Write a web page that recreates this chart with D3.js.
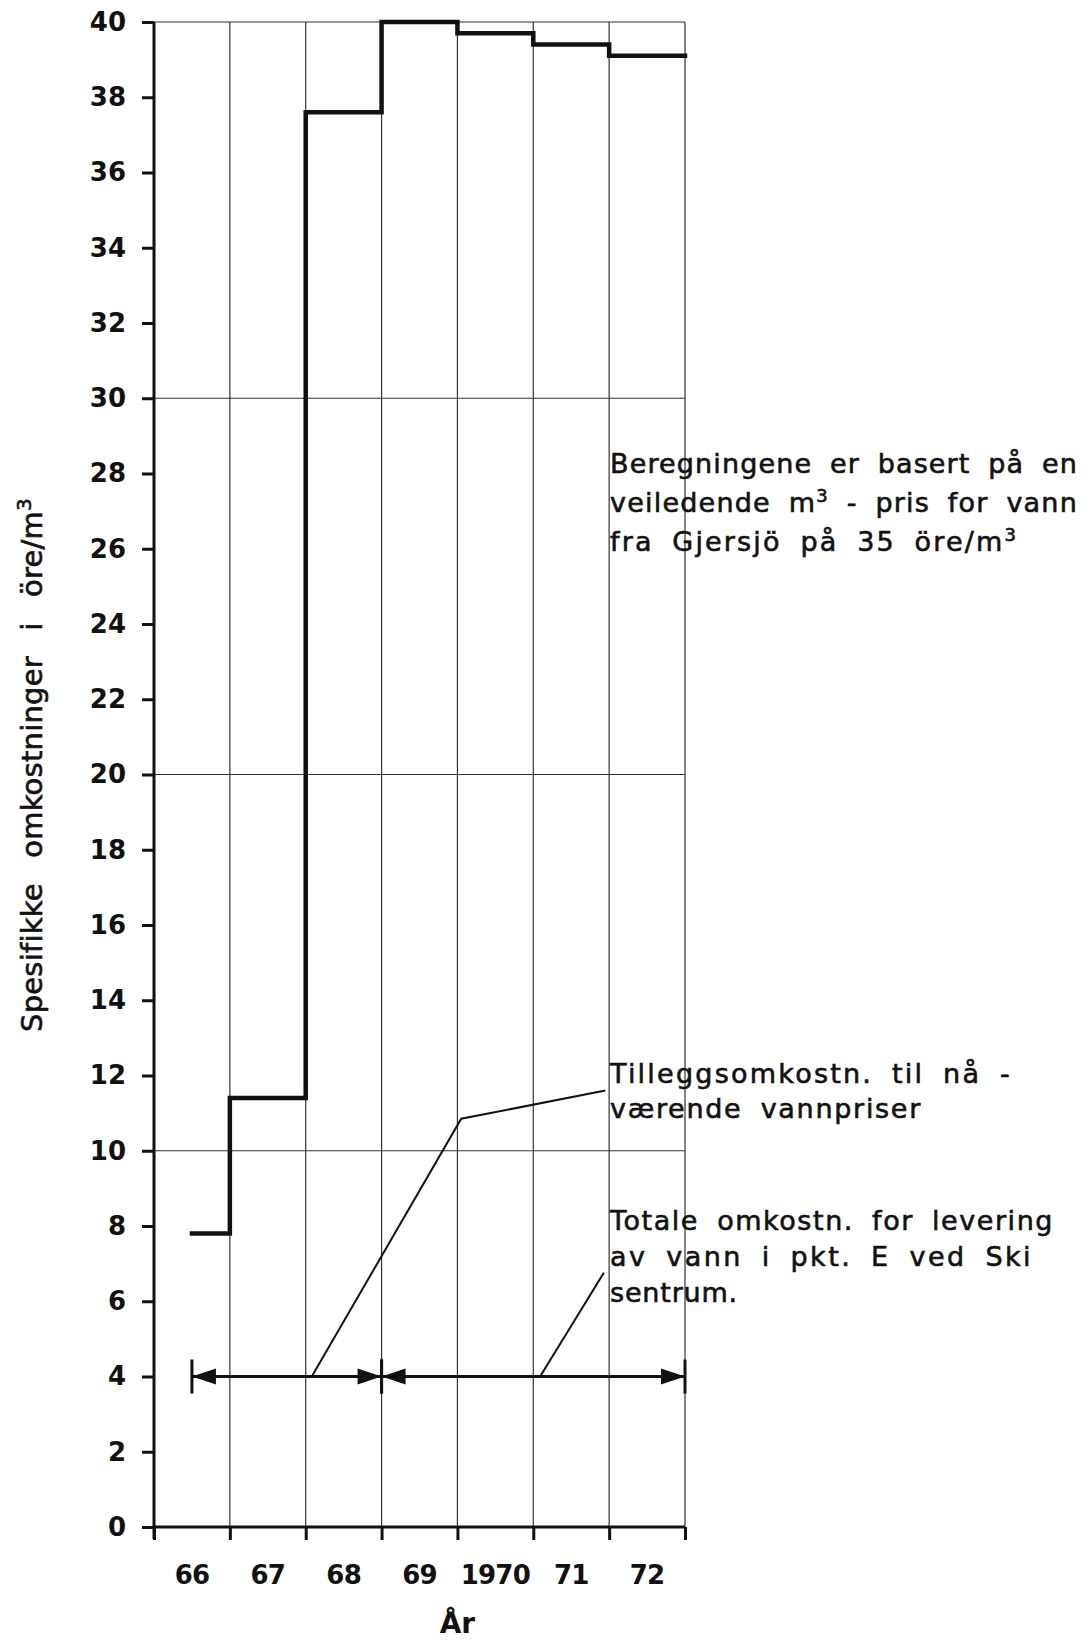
<!DOCTYPE html>
<html>
<head>
<meta charset="utf-8">
<script src="https://cdn.jsdelivr.net/npm/d3@7"></script>
<style>
  html, body { margin: 0; padding: 0; background: #fff; }
  svg { display: block; }
  text { fill: #111; font-family: "DejaVu Sans", sans-serif; }
</style>
</head>
<body>
<script>
// ---------- data ----------
const yearStarts = [1966, 1967, 1968, 1969, 1970, 1971, 1972];
const yearLabels = ["66", "67", "68", "69", "1970", "71", "72"];
const yearEnd = 1973;
const stepStarts = [1966.5, 1967, 1968, 1969, 1970, 1971, 1972];
const stepValues = [7.8, 11.4, 37.6, 40.0, 39.7, 39.4, 39.1];
const yTicks = [0, 2, 4, 6, 8, 10, 12, 14, 16, 18, 20, 22, 24, 26, 28, 30, 32, 34, 36, 38, 40];
const hGridValues = [10, 20, 30, 40];
const arrowLevel = 4;
const arrowSpans = [[1966.5, 1969], [1969, 1973]];
const leaderTillegg = [[1968.08, 4], [1970.05, 10.85], [1971.95, 11.6]];
const leaderTotale = [[1971.09, 4], [1971.93, 6.76]];
const noteBasis = ["Beregningene er basert på en", "veiledende m³ - pris for vann", "fra Gjersjö på 35 öre/m³"];
const noteTillegg = ["Tilleggsomkostn. til nå -", "værende vannpriser"];
const noteTotale = ["Totale omkostn. for levering", "av vann i pkt. E ved Ski", "sentrum."];
const yTitle = "Spesifikke omkostninger i öre/m³";
const xTitle = "År";

// ---------- layout ----------
const W = 1086, H = 1642;
const svg = d3.select("body").append("svg").attr("width", W).attr("height", H);

const x = d3.scaleLinear().domain([1966, 1973]).range([154, 685]);
const y = d3.scaleLinear().domain([0, 40]).range([1527, 22]);

const ink = "#111";

// writes a string, turning "³" into a raised small 3
function writeSup(sel, s, supSize) {
  const parts = s.split("³");
  parts.forEach((p, i) => {
    if (p.length) sel.append("tspan").text(p);
    if (i < parts.length - 1) {
      sel.append("tspan").attr("baseline-shift", "55%").attr("font-size", supSize).text("3");
    }
  });
}
// widens a line (word gaps first, then letters) so that it spans the target width
function fit(sel, target, wordGap) {
  const node = sel.node();
  const n = (node.textContent.match(/ /g) || []).length;
  if (n > 0) sel.attr("word-spacing", wordGap);
  const L = node.getComputedTextLength();
  const chars = node.textContent.length;
  sel.attr("letter-spacing", (target - L) / chars);
}

// vertical grid lines at each year boundary
const g = svg.append("g");
g.selectAll("line.vg")
  .data(yearStarts.slice(1).concat([yearEnd]))
  .join("line")
  .attr("x1", d => x(d)).attr("x2", d => x(d))
  .attr("y1", y(0)).attr("y2", y(40))
  .attr("stroke", "#333").attr("stroke-width", 1.2);

// horizontal grid lines
g.selectAll("line.hg")
  .data(hGridValues)
  .join("line")
  .attr("x1", x(1966)).attr("x2", x(yearEnd))
  .attr("y1", d => y(d)).attr("y2", d => y(d))
  .attr("stroke", "#333").attr("stroke-width", 1.2);

// y axis
const yAxis = d3.axisLeft(y).tickValues(yTicks).tickSize(12).tickPadding(16).tickFormat(d3.format("d"));
const ya = svg.append("g").attr("transform", `translate(${x(1966)},0)`).call(yAxis);
ya.select(".domain").attr("stroke", ink).attr("stroke-width", 3).attr("d", `M0,${y(0) + 12}V${y(40)}`);
ya.selectAll(".tick line").attr("stroke", ink).attr("stroke-width", 3);
ya.selectAll(".tick text").attr("font-size", 26).attr("font-weight", "bold")
  .attr("font-family", "'DejaVu Sans', sans-serif").attr("fill", ink);

// x axis: ticks at boundaries
const xAxis = d3.axisBottom(x).tickValues(yearStarts.concat([yearEnd])).tickSize(13).tickFormat("");
const xa = svg.append("g").attr("transform", `translate(0,${y(0)})`).call(xAxis);
xa.select(".domain").attr("stroke", ink).attr("stroke-width", 3).attr("d", `M${x(1966)},0H${x(yearEnd)}`);
xa.selectAll(".tick line").attr("stroke", ink).attr("stroke-width", 3);

// year labels centred in each interval
svg.append("g").selectAll("text")
  .data(yearStarts)
  .join("text")
  .attr("x", (d, i) => x(d + 0.5))
  .attr("y", y(0) + 57)
  .attr("text-anchor", "middle")
  .attr("font-size", 26).attr("font-weight", "bold")
  .attr("letter-spacing", -0.8)
  .text((d, i) => yearLabels[i]);

// x title
svg.append("text")
  .attr("x", x(1970)).attr("y", 1633)
  .attr("text-anchor", "middle")
  .attr("font-size", 28).attr("font-weight", "bold")
  .text(xTitle);

// y title
const yt = svg.append("text")
  .attr("transform", `translate(42,765) rotate(-90)`)
  .attr("text-anchor", "middle")
  .attr("font-size", 29)
  .attr("stroke", ink).attr("stroke-width", 0.6);
writeSup(yt, yTitle, 20);
fit(yt, 534, 16);

// step line
const stepPts = stepStarts.map((s, i) => [s, stepValues[i]]).concat([[yearEnd, stepValues[stepValues.length - 1]]]);
const stepLine = d3.line().x(d => x(d[0])).y(d => y(d[1])).curve(d3.curveStepAfter);
svg.append("path")
  .attr("d", stepLine(stepPts))
  .attr("fill", "none").attr("stroke", ink).attr("stroke-width", 4.5)
  .attr("stroke-linejoin", "miter").attr("stroke-linecap", "square");

// dimension arrows at level 4
const ay = y(arrowLevel);
const ag = svg.append("g");
arrowSpans.forEach(([a, b]) => {
  const xa0 = x(a), xb0 = x(b);
  ag.append("line").attr("x1", xa0).attr("x2", xb0).attr("y1", ay).attr("y2", ay)
    .attr("stroke", ink).attr("stroke-width", 3);
  const L = 24, hw = 8;
  ag.append("path").attr("d", `M${xa0},${ay}L${xa0 + L},${ay - hw}L${xa0 + L},${ay + hw}Z`).attr("fill", ink);
  ag.append("path").attr("d", `M${xb0},${ay}L${xb0 - L},${ay - hw}L${xb0 - L},${ay + hw}Z`).attr("fill", ink);
  [xa0, xb0].forEach(px => {
    ag.append("line").attr("x1", px).attr("x2", px).attr("y1", ay - 17).attr("y2", ay + 17)
      .attr("stroke", ink).attr("stroke-width", 3);
  });
});

// leader lines
const lead = d3.line().x(d => x(d[0])).y(d => y(d[1]));
[leaderTillegg, leaderTotale].forEach(pts => {
  svg.append("path").attr("d", lead(pts)).attr("fill", "none")
    .attr("stroke", ink).attr("stroke-width", 2);
});

// notes
function note(lines, x0, y0, lh, widths) {
  const t = svg.append("g");
  lines.forEach((s, i) => {
    const tx = t.append("text")
      .attr("x", x0).attr("y", y0 + i * lh)
      .attr("font-size", 27)
      .attr("stroke", ink).attr("stroke-width", 0.6);
    writeSup(tx, s, 18);
    fit(tx, widths[i], 8);
  });
}
note(noteBasis, 610, 473, 39, [468, 468, 408]);
note(noteTillegg, 610, 1083, 35, [402, 312]);
note(noteTotale, 610, 1230, 36, [444, 423, 128]);
</script>
</body>
</html>
